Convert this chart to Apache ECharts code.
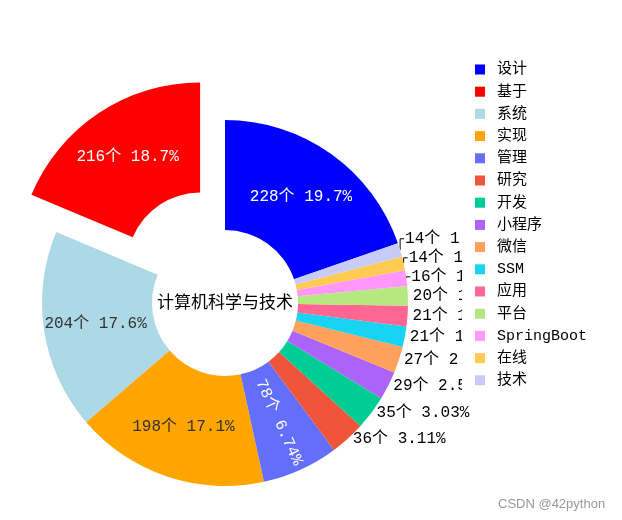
<!DOCTYPE html>
<html><head><meta charset="utf-8">
<script src="https://cdn.jsdelivr.net/npm/echarts@6/dist/echarts.min.js"></script>
<style>html,body{margin:0;padding:0;background:#fff}#c{width:622px;height:520px}</style>
</head><body><div id="c"></div>
<script>
const categories = ['设计','基于','系统','实现','管理','研究','开发','小程序','微信','SSM','应用','平台','SpringBoot','在线','技术'];
const values = [228,216,204,198,78,36,35,29,27,21,21,20,16,14,14];
const colors = ['#0000ff','#ff0000','#add8e6','#ffa500','#636efa','#ef553b','#00cc96','#ab63fa','#ffa15a','#19d3f3','#ff6692','#b6e880','#ff97ff','#fecb52','#c8cbf8'];
const insideLabelColors = {'设计':'#fff','基于':'#fff','系统':'#333','实现':'#333','管理':'#fff'};
const radialLabels = ['管理'];
const selectedCategory = '基于';
const centerTitle = '计算机科学与技术';
const watermark = 'CSDN @42python';

const total = values.reduce((a, b) => a + b, 0);
const mono = "'Courier New','Liberation Mono','Noto Sans CJK SC',monospace";

const data = categories.map((name, i) => {
  const item = { name, value: values[i], itemStyle: { color: colors[i] } };
  if (insideLabelColors[name]) {
    item.label = { position: 'inside', color: insideLabelColors[name] };
    if (radialLabels.indexOf(name) >= 0) item.label.rotate = 'radial';
    item.labelLine = { show: false };
  }
  if (name === selectedCategory) item.selected = true;
  return item;
});

// Outside labels: resolve overlaps by pushing labels upward (from the bottom one up)
const outsideIdx = categories.map((n, i) => i).filter(i => !insideLabelColors[categories[i]]);
const naturals = {};
function layoutLabels(params) {
  const idx = params.dataIndex;
  if (insideLabelColors[categories[idx]]) return {};
  const r = params.labelRect;
  naturals[idx] = { c: r.y + r.height / 2, h: r.height };
  let prev = null, y = naturals[idx].c;
  for (const j of outsideIdx) {
    const n = naturals[j];
    if (!n) continue;
    let cy = n.c;
    if (prev !== null && cy > prev - n.h) cy = prev - n.h;
    prev = cy;
    if (j === idx) { y = cy; break; }
  }
  const pts = params.labelLinePoints;
  const res = { y };
  if (pts) {
    const p0 = pts[0];
    res.labelLinePoints = (naturals[idx].c - y > 0.5)
      ? [p0, [p0[0], y], [pts[2][0], y]]
      : [p0, p0, p0];
  }
  return res;
}

const chart = echarts.init(document.getElementById('c'));
chart.setOption({
  animation: false,
  color: colors,
  legend: {
    orient: 'vertical', left: 462, top: 57,
    padding: [5, 8, 5, 13], backgroundColor: '#fff',
    itemWidth: 10, itemHeight: 10, itemGap: 7.2, icon: 'rect',
    textStyle: { fontSize: 15, fontFamily: mono, color: '#000', padding: [0, 0, 0, 7] },
    data: categories
  },
  graphic: [
    { type: 'text', x: 225, y: 302, z: 10,
      style: { text: centerTitle, fill: '#000', font: "17px 'Noto Sans CJK SC', sans-serif", textAlign: 'center', textVerticalAlign: 'middle' } },
    { type: 'text', x: 498, y: 504,
      style: { text: watermark, fill: '#999', font: "13px 'Liberation Sans', Arial, sans-serif", textAlign: 'left', textVerticalAlign: 'middle' } }
  ],
  series: [{
    type: 'pie',
    center: [225, 303],
    radius: [73, 183],
    clockwise: false,
    startAngle: 90 - values[0] / total * 360,
    selectedMode: 'single',
    selectedOffset: 45,
    avoidLabelOverlap: false,
    label: {
      show: true, position: 'outside', color: '#000', fontSize: 16, lineHeight: 19, fontFamily: mono,
      distanceToLabelLine: 1,
      formatter: p => p.value + '个 ' + (p.value / total * 100).toPrecision(3) + '%'
    },
    labelLine: { show: true, length: 0, length2: 4, lineStyle: { color: '#000', width: 1 } },
    labelLayout: layoutLabels,
    emphasis: { disabled: true },
    data
  }]
});
// second pass so every label sees the natural positions of all the others
chart.setOption({ series: [{ labelLayout: layoutLabels }] });
</script></body></html>
